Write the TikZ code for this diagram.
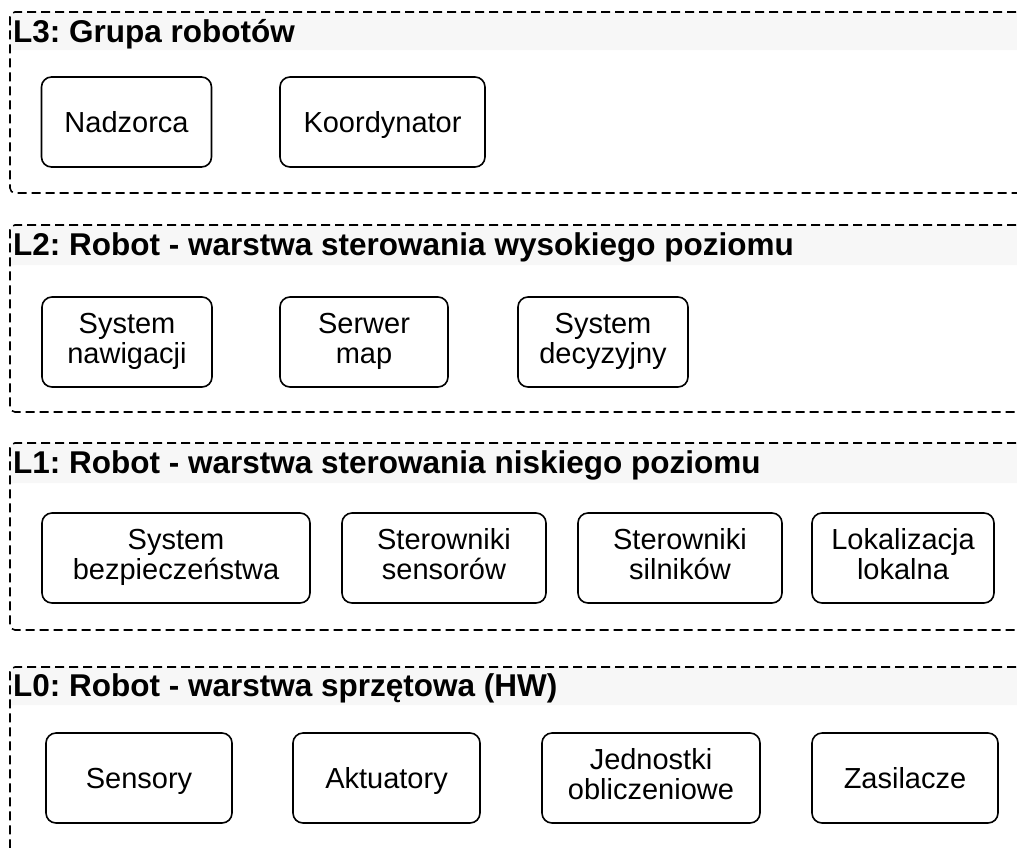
\documentclass[tikz,border=0pt]{standalone}
\usepackage{fontspec}
\setmainfont{Liberation Sans}
\frenchspacing
\definecolor{headergray}{HTML}{F7F7F7}
% invisible rules fixing the top of the first line and the bottom of the last,
% so that the caps sit in the middle of each box
\newcommand\topstrut{\rule{0pt}{28.8pt}}
\newcommand\botstrut{\rule[-8pt]{0pt}{8pt}}
\tikzset{
  layerline/.style={draw=black, line width=1.6pt, dash pattern=on 9pt off 5pt},
  headerband/.style={fill=headergray},
  headertext/.style={anchor=base west, inner sep=0pt, font=\fontsize{31.5}{38}\selectfont\bfseries},
  unit/.style={draw=black, line width=1.6pt, rounded corners=10pt, fill=white,
    align=center, inner sep=0pt, minimum height=90pt,
    font=\fontsize{29}{30}\selectfont,
    execute at begin node=\topstrut, execute at end node=\botstrut},
}
\begin{document}
\begin{tikzpicture}[x=1pt,y=-1pt]
\useasboundingbox (0,0) rectangle (1017,847);
\clip (0,0) rectangle (1017,847);

% header bands
\foreach \t/\h in {12/50, 225/265, 443/483, 667/705}{
  \fill[headerband] (1030,\t) [rounded corners=5pt] -- (10,\t) [sharp corners] -- (10,\h) -- (1030,\h) -- cycle;
}

% layer frames, open to the right
\draw[layerline, rounded corners=5pt] (1030,12) -- (10,12) -- (10,193) -- (1030,193);
\draw[layerline, rounded corners=5pt] (1030,225) -- (10,225) -- (10,412) -- (1030,412);
\draw[layerline, rounded corners=5pt] (1030,443) -- (10,443) -- (10,630) -- (1030,630);
\draw[layerline, rounded corners=5pt] (1030,667) -- (10,667) -- (10,870);

% layer titles
\node[headertext] (h3) at (13,42) {L3: Grupa robotów};
\node[headertext] (h2) at (13,255) {L2: Robot - warstwa sterowania wysokiego poziomu};
\node[headertext] (h1) at (13,473) {L1: Robot - warstwa sterowania niskiego poziomu};
\node[headertext] (h0) at (13,696) {L0: Robot - warstwa sprzętowa (HW)};

% L3
\node[unit, minimum width=170pt] (nadzorca) at (126.5,122) {Nadzorca};
\node[unit, minimum width=205pt] (koord) at (382.5,122) {Koordynator};

% L2
\node[unit, minimum width=170pt] (nawig) at (127,342) {System\\nawigacji};
\node[unit, minimum width=168pt] (serwer) at (364,342) {Serwer\\map};
\node[unit, minimum width=170pt] (decyz) at (603,342) {System\\decyzyjny};

% L1
\node[unit, minimum width=268pt] (bezp) at (176,558) {System\\bezpieczeństwa};
\node[unit, minimum width=204pt] (sens) at (444,558) {Sterowniki\\sensorów};
\node[unit, minimum width=204pt] (siln) at (680,558) {Sterowniki\\silników};
\node[unit, minimum width=182pt] (lokal) at (903,558) {Lokalizacja\\lokalna};

% L0
\node[unit, minimum width=186pt] (sensory) at (139,778) {Sensory};
\node[unit, minimum width=187pt] (aktu) at (386.5,778) {Aktuatory};
\node[unit, minimum width=218pt] (jedn) at (651,778) {Jednostki\\obliczeniowe};
\node[unit, minimum width=186pt] (zasil) at (905,778) {Zasilacze};
\end{tikzpicture}
\end{document}
